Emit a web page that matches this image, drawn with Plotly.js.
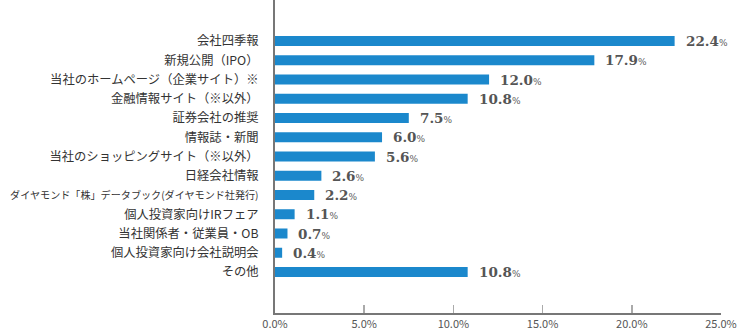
<!DOCTYPE html>
<html><head><meta charset="utf-8">
<script src="https://cdn.plot.ly/plotly-3.0.1.min.js"></script>
<style>html,body{margin:0;padding:0;background:#fff}#chart{width:739px;height:336px}</style>
</head><body><div id="chart"></div>
<script>
const categories = ["会社四季報","新規公開（IPO）","当社のホームページ（企業サイト）※","金融情報サイト（※以外）","証券会社の推奨","情報誌・新聞","当社のショッピングサイト（※以外）","日経会社情報","ダイヤモンド「株」データブック(ダイヤモンド社発行)","個人投資家向けIRフェア","当社関係者・従業員・OB","個人投資家向け会社説明会","その他"];
const values = [22.4,17.9,12.0,10.8,7.5,6.0,5.6,2.6,2.2,1.1,0.7,0.4,10.8];
const xTicks = [0,5,10,15,20,25];
const xTickLabels = ["0.0%","5.0%","10.0%","15.0%","20.0%","25.0%"];

const tickText = categories.map(c => c.length > 22 ? '<span style="font-size:10.1px">'+c+'</span>' : c);

const trace = {
  type:'bar', orientation:'h', x:values, y:categories,
  marker:{color:'#1b88cc'}, width:0.52, hoverinfo:'none'
};
const annotations = values.map((v,i)=>({
  x:v, y:categories[i], xref:'x', yref:'y', xanchor:'left', yanchor:'middle',
  xshift:9, showarrow:false,
  text:'<b>'+v.toFixed(1)+'</b><span style="font-size:9px">%</span>',
  font:{family:'DejaVu Serif, serif', size:13.5, color:'#555'}
}));
const layout = {
  width:739, height:336,
  margin:{l:275, r:17.5, t:0, b:23},
  paper_bgcolor:'#fff', plot_bgcolor:'#fff',
  showlegend:false,
  xaxis:{range:[0,25], tickvals:xTicks, ticktext:xTickLabels, showgrid:false, zeroline:false,
    showline:true, linecolor:'#777', linewidth:1.5, ticks:'inside', ticklen:8, tickcolor:'#aaa', tickwidth:1.5,
    tickfont:{family:'Noto Sans CJK JP, sans-serif', size:11, color:'#555'}, fixedrange:true},
  yaxis:{type:'category', categoryorder:'array', categoryarray:categories,
    tickvals:categories, ticktext:tickText,
    range:[14.13,-2.13], showgrid:false, zeroline:false, showline:true, linecolor:'#777', linewidth:2,
    ticks:'', ticklabelstandoff:12,
    tickfont:{family:'Noto Sans CJK JP, sans-serif', size:12.3, color:'#333'}},
  annotations:annotations
};
Plotly.newPlot('chart',[trace],layout,{displayModeBar:false,staticPlot:true});
</script></body></html>
